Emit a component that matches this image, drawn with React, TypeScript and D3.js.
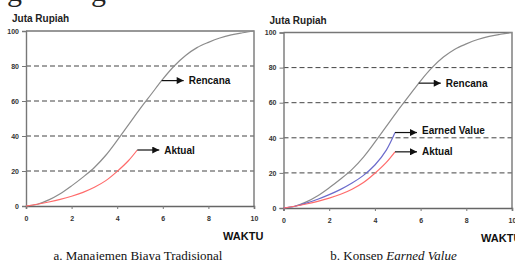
import React, { useRef, useEffect } from 'react';
import * as d3 from 'd3';

// Rencana (plan) S-curve, juta rupiah vs waktu
const planX = [0, 0.5, 1, 1.5, 2, 2.5, 3, 3.5, 4, 4.5, 5, 5.5, 6, 6.5, 7, 7.5, 8, 8.5, 9, 9.5, 10];
const planY = [0, 1, 3.5, 7, 11.5, 16.5, 22, 29, 37.5, 46.5, 55.5, 64, 72.5, 80, 86, 90.5, 93.5, 96, 97.8, 99, 100];

// Aktual (actual cost) up to today
const actualX = [0, 0.5, 1, 1.5, 2, 2.5, 3, 3.5, 4, 4.5, 4.88];
const actualY = [0, 1, 2.3, 3.8, 5.6, 7.8, 10.7, 14.5, 19.8, 26, 32];

// Earned value (right panel only)
const earnedX = [0, 0.5, 1, 1.5, 2, 2.5, 3, 3.5, 4, 4.5, 4.88];
const earnedY = [0, 1, 2.8, 5, 7.6, 10.6, 14.2, 18.6, 24.5, 33, 43];

const yTicks = [0, 20, 40, 60, 80, 100];
const xTicks = [0, 2, 4, 6, 8, 10];
const gridLines = [20, 40, 60, 80];

const yTitle = 'Juta Rupiah';
const xTitle = 'WAKTU';

const SANS = "'Liberation Sans', Arial, sans-serif";
const NARROW = "'Liberation Sans Narrow', 'Liberation Sans', Arial, sans-serif";
const SERIF = "'Liberation Serif', 'Times New Roman', serif";

interface Panel {
  left: number;
  right: number;
  top: number;
  bottom: number;
  showEarned: boolean;
  planArrowAt: number;
}

const panels: Panel[] = [
  { left: 26, right: 254, top: 31, bottom: 206, showEarned: false, planArrowAt: 5.95 },
  { left: 283.5, right: 512, top: 32.5, bottom: 208, showEarned: true, planArrowAt: 5.92 },
];

export default function App() {
  const svgRef = useRef<SVGSVGElement>(null);

  useEffect(() => {
    if (!svgRef.current) return;
    const svg = d3.select(svgRef.current);
    svg.selectAll('*').remove();

    const defs = svg.append('defs');
    defs.append('marker')
      .attr('id', 'arrowhead')
      .attr('viewBox', '0 0 10 10')
      .attr('refX', 10)
      .attr('refY', 5)
      .attr('markerWidth', 8)
      .attr('markerHeight', 7)
      .attr('markerUnits', 'userSpaceOnUse')
      .attr('orient', 'auto')
      .append('path')
      .attr('d', 'M0,0 L10,5 L0,10 Z')
      .attr('fill', '#111');

    // clipped heading glyphs from the line above
    svg.append('text').attr('x', 7).attr('y', 1).attr('font-family', SERIF)
      .attr('font-size', 30).attr('fill', '#222').text('g');
    svg.append('text').attr('x', 91).attr('y', 1).attr('font-family', SERIF)
      .attr('font-size', 30).attr('fill', '#222').text('g');

    panels.forEach((p, i) => {
      const x = d3.scaleLinear().domain([0, 10]).range([p.left, p.right]);
      const y = d3.scaleLinear().domain([0, 100]).range([p.bottom, p.top]);
      const g = svg.append('g');

      // dashed grid
      g.selectAll('line.grid')
        .data(gridLines)
        .enter()
        .append('line')
        .attr('x1', p.left)
        .attr('x2', p.right)
        .attr('y1', d => y(d))
        .attr('y2', d => y(d))
        .attr('stroke', '#444')
        .attr('stroke-width', 1)
        .attr('stroke-dasharray', '5,3');

      // frame: top and right
      g.append('path')
        .attr('d', `M${p.left},${p.top}H${p.right}V${p.bottom}`)
        .attr('fill', 'none')
        .attr('stroke', '#777')
        .attr('stroke-width', 1.4);

      // y axis
      const yAxis = g.append('g')
        .attr('transform', `translate(${p.left},0)`)
        .call(d3.axisLeft(y).tickValues(yTicks).tickSize(4).tickPadding(3));
      yAxis.select('.domain').attr('stroke', '#777').attr('stroke-width', 1.4);
      yAxis.selectAll('line').attr('stroke', '#777');
      yAxis.selectAll('text')
        .attr('font-family', NARROW)
        .attr('font-size', 7)
        .attr('font-weight', 'bold')
        .attr('fill', '#333');

      // x axis
      const xAxis = g.append('g')
        .attr('transform', `translate(0,${p.bottom})`)
        .call(d3.axisBottom(x).tickValues(xTicks).tickSize(3).tickPadding(7));
      xAxis.select('.domain').attr('stroke', '#666').attr('stroke-width', 1.6);
      xAxis.selectAll('line').attr('stroke', '#777');
      xAxis.selectAll('text')
        .attr('font-family', NARROW)
        .attr('font-size', 7)
        .attr('font-weight', 'bold')
        .attr('fill', '#333');

      const line = d3.line<[number, number]>()
        .x(d => x(d[0]))
        .y(d => y(d[1]))
        .curve(d3.curveCatmullRom.alpha(0.5));

      const planPts = planX.map((v, k) => [v, planY[k]] as [number, number]);
      const actualPts = actualX.map((v, k) => [v, actualY[k]] as [number, number]);
      const earnedPts = earnedX.map((v, k) => [v, earnedY[k]] as [number, number]);

      g.append('path').attr('d', line(planPts)).attr('fill', 'none')
        .attr('stroke', '#8c8c8c').attr('stroke-width', 1.2);
      if (p.showEarned) {
        g.append('path').attr('d', line(earnedPts)).attr('fill', 'none')
          .attr('stroke', '#6b6bcc').attr('stroke-width', 1.2);
      }
      g.append('path').attr('d', line(actualPts)).attr('fill', 'none')
        .attr('stroke', '#ff6b6b').attr('stroke-width', 1.2);

      // arrows + labels
      const planAt = d3.scaleLinear().domain(planX).range(planY);
      const arrows: { x: number; y: number; label: string; dy: number }[] = [
        { x: p.planArrowAt, y: planAt(p.planArrowAt), label: 'Rencana', dy: 0 },
        { x: actualX[actualX.length - 1], y: actualY[actualY.length - 1], label: 'Aktual', dy: 0 },
      ];
      if (p.showEarned) {
        arrows.push({ x: earnedX[earnedX.length - 1], y: earnedY[earnedY.length - 1], label: 'Earned Value', dy: -2 });
      }
      arrows.forEach(a => {
        const x0 = x(a.x);
        const y0 = y(a.y);
        g.append('line')
          .attr('x1', x0)
          .attr('x2', x0 + 22)
          .attr('y1', y0)
          .attr('y2', y0)
          .attr('stroke', '#111')
          .attr('stroke-width', 1.2)
          .attr('marker-end', 'url(#arrowhead)');
        g.append('text')
          .attr('x', x0 + 27)
          .attr('y', y0 + a.dy)
          .attr('dy', '0.35em')
          .attr('font-family', SANS)
          .attr('font-size', 10)
          .attr('font-weight', 'bold')
          .attr('fill', '#111')
          .text(a.label);
      });

      // titles
      g.append('text')
        .attr('x', p.left - 14)
        .attr('y', p.top - 9)
        .attr('font-family', SANS)
        .attr('font-size', 10)
        .attr('font-weight', 'bold')
        .attr('fill', '#222')
        .text(yTitle);
      g.append('text')
        .attr('x', p.right - 31)
        .attr('y', p.bottom + 34)
        .attr('font-family', SANS)
        .attr('font-size', 11)
        .attr('font-weight', 'bold')
        .attr('fill', '#111')
        .text(xTitle);

      // caption
      const cap = g.append('text')
        .attr('x', i === 0 ? 138 : 393.5)
        .attr('y', 259.5)
        .attr('text-anchor', 'middle')
        .attr('font-family', SERIF)
        .attr('font-size', 13)
        .attr('fill', '#111');
      if (i === 0) {
        cap.text('a. Manajemen Biaya Tradisional');
      } else {
        cap.append('tspan').text('b. Konsep ');
        cap.append('tspan').attr('font-style', 'italic').text('Earned Value');
      }
    });
  }, []);

  return (
    <svg
      ref={svgRef}
      width={515}
      height={260}
      style={{ position: 'absolute', left: 0, top: 0, background: '#fff' }}
    />
  );
}
